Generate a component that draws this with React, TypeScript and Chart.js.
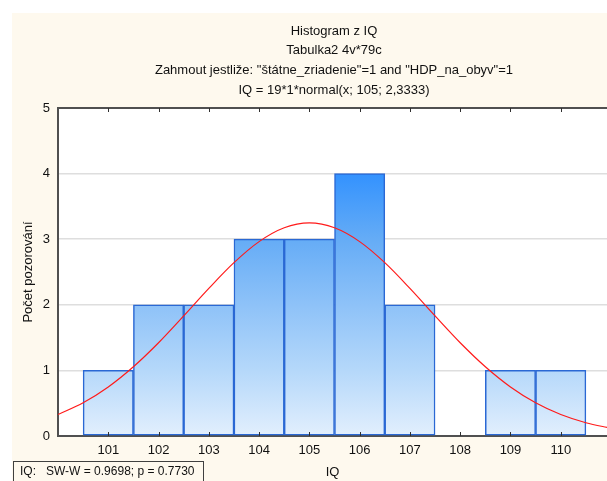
import { useEffect, useRef } from "react";
import { Chart, registerables } from "chart.js";

Chart.register(...registerables);

const titleLines = [
  "Histogram z IQ",
  "Tabulka2 4v*79c",
  'Zahmout jestliže: "štátne_zriadenie"=1 and "HDP_na_obyv"=1',
  "IQ = 19*1*normal(x; 105; 2,3333)",
];
const binCenters = [101, 102, 103, 104, 105, 106, 107, 108, 109, 110];
const counts = [1, 2, 2, 3, 3, 4, 2, 0, 1, 1];
const curveX = [100, 100.5, 101, 101.5, 102, 102.5, 103, 103.5, 104, 104.5, 105, 105.5, 106, 106.5, 107, 107.5, 108, 108.5, 109, 109.5, 110, 110.5, 111];
const curveY = [0.327, 0.506, 0.747, 1.055, 1.421, 1.83, 2.25, 2.642, 2.963, 3.174, 3.248, 3.174, 2.963, 2.642, 2.25, 1.83, 1.421, 1.055, 0.747, 0.506, 0.327, 0.202, 0.119];
const xTicks = [101, 102, 103, 104, 105, 106, 107, 108, 109, 110];
const yTicks = [0, 1, 2, 3, 4, 5];
const xTitle = "IQ";
const yTitle = "Počet pozorování";
const statsText = "IQ:   SW-W = 0.9698; p = 0.7730";

const FONT = "Arial, 'Liberation Sans', sans-serif";
const CREAM = "#fef9ee";

const decorPlugin = {
  id: "decor",
  beforeDraw(chart: any) {
    const { ctx, width, height, chartArea } = chart;
    ctx.save();
    ctx.fillStyle = "#ffffff";
    ctx.fillRect(0, 0, width, height);
    ctx.fillStyle = CREAM;
    ctx.fillRect(12, 13, width - 12, height - 13);
    ctx.fillStyle = "#ffffff";
    ctx.fillRect(chartArea.left, chartArea.top, chartArea.right - chartArea.left, chartArea.bottom - chartArea.top);
    ctx.restore();
  },
  afterDraw(chart: any) {
    const { ctx, chartArea } = chart;
    const xs = chart.scales.x;
    ctx.save();
    ctx.strokeStyle = "#505050";
    ctx.lineWidth = 2;
    ctx.beginPath();
    ctx.moveTo(chartArea.left, chartArea.top);
    ctx.lineTo(chartArea.right, chartArea.top);
    ctx.stroke();
    ctx.lineWidth = 1;
    ctx.strokeStyle = "#303030";
    ctx.beginPath();
    for (const v of xTicks) {
      const px = Math.round(xs.getPixelForValue(v)) + 0.5;
      ctx.moveTo(px, chartArea.bottom);
      ctx.lineTo(px, chartArea.bottom - 4);
      ctx.moveTo(px, chartArea.top);
      ctx.lineTo(px, chartArea.top + 4);
    }
    ctx.stroke();
    ctx.fillStyle = "#111111";
    ctx.font = `13px ${FONT}`;
    ctx.textAlign = "center";
    ctx.textBaseline = "middle";
    const cx = 334;
    const ys = [31, 50, 70, 90];
    titleLines.forEach((t, i) => ctx.fillText(t, cx, ys[i]));
    ctx.fillStyle = CREAM;
    ctx.fillRect(13, 461, 190, 30);
    ctx.strokeStyle = "#404040";
    ctx.lineWidth = 1;
    ctx.strokeRect(13.5, 461.5, 190, 30);
    ctx.fillStyle = "#111111";
    ctx.font = `12px ${FONT}`;
    ctx.textAlign = "left";
    ctx.textBaseline = "middle";
    ctx.fillText(statsText, 20, 472);
    ctx.restore();
  },
};

export default function App() {
  const ref = useRef<HTMLCanvasElement | null>(null);
  useEffect(() => {
    if (!ref.current) return;
    const barGradient = (context: any) => {
      const chart = context.chart;
      const area = chart.chartArea;
      if (!area) return "#8ec2f8";
      const g = chart.ctx.createLinearGradient(0, area.top, 0, area.bottom);
      g.addColorStop(0, "#0f7cff");
      g.addColorStop(0.2, "#3392fe");
      g.addColorStop(0.4, "#65acf6");
      g.addColorStop(0.6, "#8ec2f8");
      g.addColorStop(0.8, "#b5d8fa");
      g.addColorStop(1, "#e2effd");
      return g;
    };
    const chart = new Chart(ref.current, {
      type: "bar",
      data: {
        datasets: [
          {
            type: "line",
            data: curveX.map((x, i) => ({ x, y: curveY[i] })),
            borderColor: "#ff1a1a",
            borderWidth: 1.2,
            pointRadius: 0,
            cubicInterpolationMode: "monotone",
            fill: false,
          } as any,
          {
            type: "bar",
            data: binCenters.map((x, i) => ({ x, y: counts[i] === 0 ? null : counts[i] })),
            backgroundColor: barGradient,
            borderColor: "#2a68d4",
            borderWidth: 1.5,
            borderSkipped: false,
            barPercentage: 1,
            categoryPercentage: 1,
          } as any,
        ],
      },
      options: {
        animation: false,
        responsive: false,
        maintainAspectRatio: false,
        layout: { padding: { top: 108, left: 0, right: 0, bottom: 0 } },
        plugins: { legend: { display: false }, title: { display: false }, tooltip: { enabled: false } },
        scales: {
          x: {
            type: "linear",
            min: 100,
            max: 110.92,
            offset: false,
            afterBuildTicks: (s: any) => {
              s.ticks = xTicks.map((v) => ({ value: v }));
            },
            afterFit: (s: any) => {
              s.height = 45;
            },
            grid: { display: true, color: "rgba(0,0,0,0)", drawTicks: false, offset: false },
            border: { display: true, color: "#505050", width: 2 },
            ticks: { padding: 7, color: "#111", font: { family: FONT, size: 13 }, maxRotation: 0, autoSkip: false },
            title: { display: true, text: xTitle, color: "#111", font: { family: FONT, size: 13 }, padding: { top: 0, bottom: 1 } },
          },
          y: {
            type: "linear",
            min: 0,
            max: 5,
            afterBuildTicks: (s: any) => {
              s.ticks = yTicks.map((v) => ({ value: v }));
            },
            afterFit: (s: any) => {
              s.width = 58;
            },
            grid: {
              drawTicks: false,
              color: (c: any) => (c.tick && (c.tick.value === 0 || c.tick.value === 5) ? "rgba(0,0,0,0)" : "#dedede"),
              lineWidth: 1.5,
            },
            border: { display: true, color: "#505050", width: 2 },
            ticks: { padding: 8, color: "#111", font: { family: FONT, size: 13 } },
            title: { display: true, text: yTitle, color: "#111", font: { family: FONT, size: 13 }, padding: { top: 21, bottom: 0 } },
          },
        },
      },
      plugins: [decorPlugin],
    });
    return () => chart.destroy();
  }, []);
  return (
    <div style={{ position: "absolute", left: 0, top: 0, width: 607, height: 481, overflow: "hidden" }}>
      <canvas ref={ref} width={607} height={481} style={{ display: "block", width: 607, height: 481 }} />
    </div>
  );
}
